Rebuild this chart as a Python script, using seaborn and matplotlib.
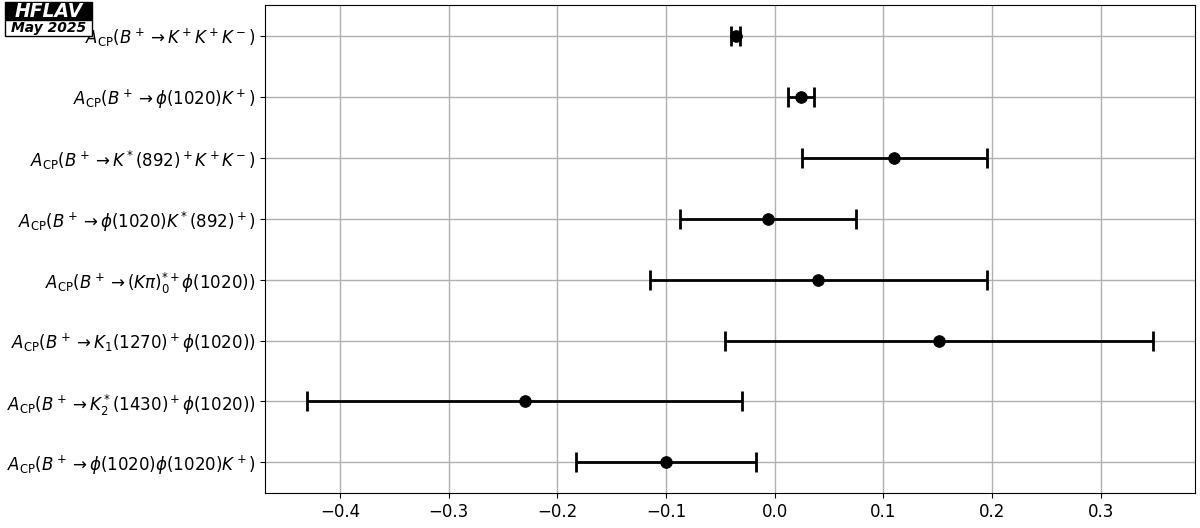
import numpy as np
import matplotlib
matplotlib.use('Agg')
import matplotlib.pyplot as plt
from matplotlib.patches import Rectangle
import seaborn as sns

# data
labels = [
    r'$A_{\mathrm{CP}}(B^+ \to K^+K^+K^-)$',
    r'$A_{\mathrm{CP}}(B^+ \to \phi(1020)K^+)$',
    r'$A_{\mathrm{CP}}(B^+ \to K^*(892)^+K^+K^-)$',
    r'$A_{\mathrm{CP}}(B^+ \to \phi(1020)K^*(892)^+)$',
    r'$A_{\mathrm{CP}}(B^+ \to (K\pi)^{*+}_0\phi(1020))$',
    r'$A_{\mathrm{CP}}(B^+ \to K_1(1270)^+\phi(1020))$',
    r'$A_{\mathrm{CP}}(B^+ \to K_2^*(1430)^+\phi(1020))$',
    r'$A_{\mathrm{CP}}(B^+ \to \phi(1020)\phi(1020)K^+)$',
]
values = [-0.036, 0.024, 0.11, -0.006, 0.04, 0.151, -0.23, -0.10]
errors = [0.004, 0.012, 0.085, 0.081, 0.155, 0.197, 0.20, 0.083]

pos = np.arange(len(labels))

fig = plt.figure(figsize=(12, 5.28), dpi=100)
ax = fig.add_axes([0.221, 0.0663, 0.775, 0.9242])

ax.errorbar(values, pos, xerr=errors, fmt='none', ecolor='black',
            elinewidth=2, capsize=7, capthick=2, zorder=3)
sns.scatterplot(x=values, y=pos, color='black', s=70, edgecolor='black',
                zorder=4, ax=ax, legend=False)

ax.set_yticks(pos)
ax.set_yticklabels(labels, fontsize=12)
ax.set_ylim(len(labels) - 0.5, -0.5)
ax.tick_params(axis='x', labelsize=12)
ax.grid(True, color='#b0b0b0', linewidth=1)
ax.set_axisbelow(True)
ax.set_xlabel('')
ax.set_ylabel('')

# HFLAV logo
fig.add_artist(Rectangle((0.0042, 0.962), 0.0725, 0.0342, transform=fig.transFigure,
                         facecolor='black', edgecolor='black', linewidth=1))
fig.add_artist(Rectangle((0.0042, 0.932), 0.0725, 0.030, transform=fig.transFigure,
                         facecolor='white', edgecolor='black', linewidth=1, zorder=1))
fig.text(0.0405, 0.979, 'HFLAV', color='white', fontsize=13.5, fontweight='bold',
         fontstyle='italic', ha='center', va='center')
fig.text(0.0405, 0.947, 'May 2025', color='black', fontsize=10, fontweight='bold',
         fontstyle='italic', ha='center', va='center', zorder=2)

fig.savefig('out.png', dpi=100)
